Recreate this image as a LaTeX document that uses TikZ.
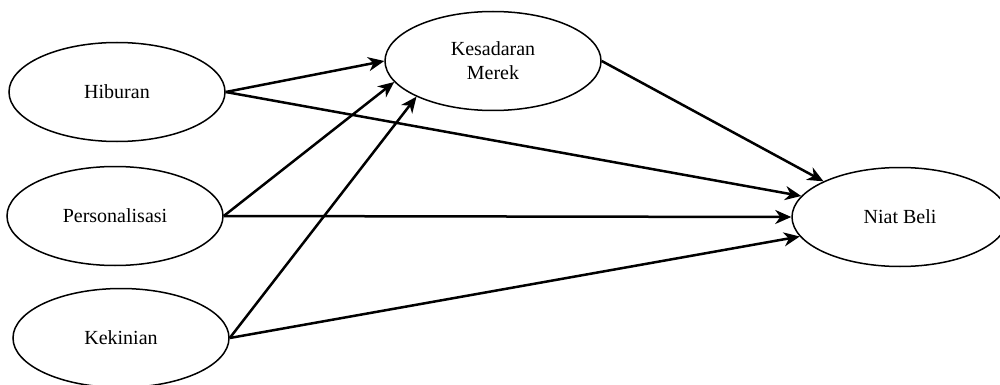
\documentclass[tikz,border=0pt]{standalone}
\usepackage{fontspec}
\setmainfont{Liberation Serif}
\usetikzlibrary{shapes.geometric,arrows.meta}
\begin{document}
\begin{tikzpicture}[x=1pt,y=-1pt,
  var/.style={draw,ellipse,line width=1.5pt,minimum width=216pt,minimum height=99pt,inner sep=0pt,font=\fontsize{20}{24}\selectfont,align=center},
  arr/.style={line width=2.5pt,-{Stealth[length=16pt,width=14pt,inset=5pt]}}]
\useasboundingbox (0,0) rectangle (1000,385);
\node[var] (h) at (117,92) {Hiburan};
\node[var] (p) at (115,216) {Personalisasi};
\node[var] (kk) at (121,338) {Kekinian};
\node[var] (k) at (493,61) {Kesadaran\\Merek};
\node[var] (n) at (900,217) {Niat Beli};
\draw[arr] (h.east) -- (k.west);
\draw[arr] (p.east) -- (k.192);
\draw[arr] (kk.east) -- (k.205);
\draw[arr] (k.east) -- (n.155);
\draw[arr] (h.east) -- (n.168);
\draw[arr] (p.east) -- (n.west);
\draw[arr] (kk.east) -- (n.191);
\end{tikzpicture}
\end{document}
